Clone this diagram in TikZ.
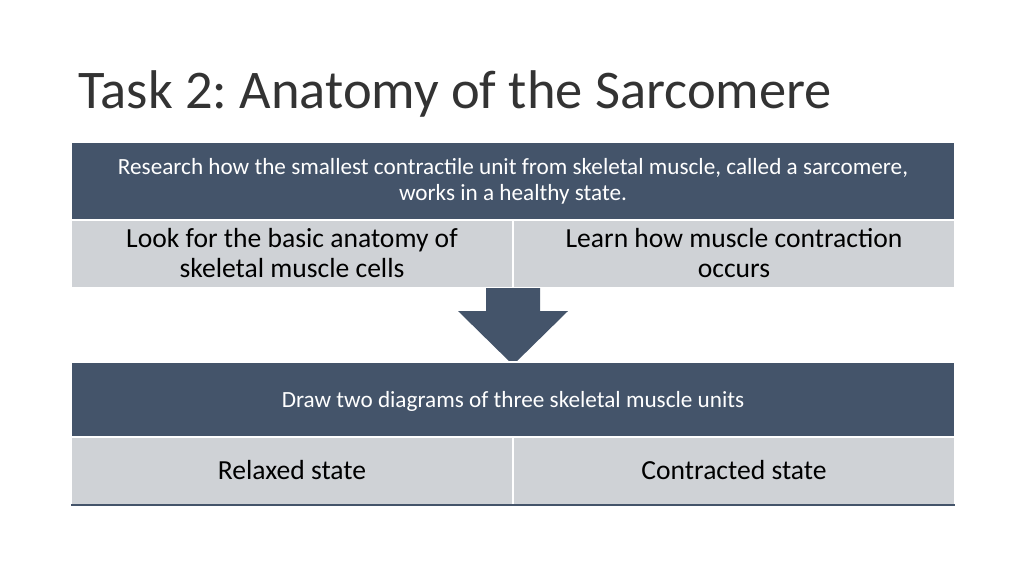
\documentclass[tikz,border=0pt]{standalone}
\usepackage{fontspec}
\setmainfont{Carlito}
\usepackage{tikz}
\usetikzlibrary{calc}
\definecolor{slate}{HTML}{44546A}
\definecolor{pale}{HTML}{CFD2D6}
\tikzset{
	darkbox/.style = {fill=slate, draw=white, line width=0.6pt},
	lightbox/.style = {fill=pale, draw=white, line width=0.6pt},
	bodytext/.style = {align=center, font=\fontsize{15.7}{17}\selectfont},
	smalltext/.style = {white, align=center, font=\fontsize{13.2}{14.7}\selectfont}
}
\begin{document}
\begin{tikzpicture}[x=0.02cm, y=-0.02cm]
	\useasboundingbox (0,0) rectangle (1024,576);
	\node [anchor=west, inner sep=0pt, font=\fontsize{31}{36}\selectfont, color=black!80] (title) at (78,94) {Task 2{:}~Anatomy of the Sarcomere};
	
	% upper table
	\draw [darkbox] (71,142) rectangle (955,220);
	\node [smalltext] (research) at (513,181) {Research how the smallest contractile unit from skeletal muscle, called a sarcomere,\\ works in a healthy state.};
	\draw [lightbox] (71,220) rectangle (513,288);
	\draw [lightbox] (513,220) rectangle (955,288);
	\node [bodytext] (anatomy) at (292,253) {Look for the basic anatomy of\\ skeletal muscle cells};
	\node [bodytext] (contraction) at (734,253) {Learn how muscle contraction\\ occurs};
	
	% arrow
	\fill [slate] (486,288) -- (540,288) -- (540,311) -- (568,311) -- (513,365) -- (458,311) -- (486,311) -- cycle;
	
	% lower table
	\draw [darkbox] (71,362) rectangle (955,437);
	\node [smalltext] (draw) at (513,401) {Draw two diagrams of three skeletal muscle units};
	\draw [lightbox] (71,437) rectangle (513,505);
	\draw [lightbox] (513,437) rectangle (955,505);
	\draw [slate, line width=1pt] (71,505) -- (955,505);
	\node [bodytext] (relaxed) at (292,470) {Relaxed state};
	\node [bodytext] (contracted) at (734,470) {Contracted state};
\end{tikzpicture}
\end{document}
